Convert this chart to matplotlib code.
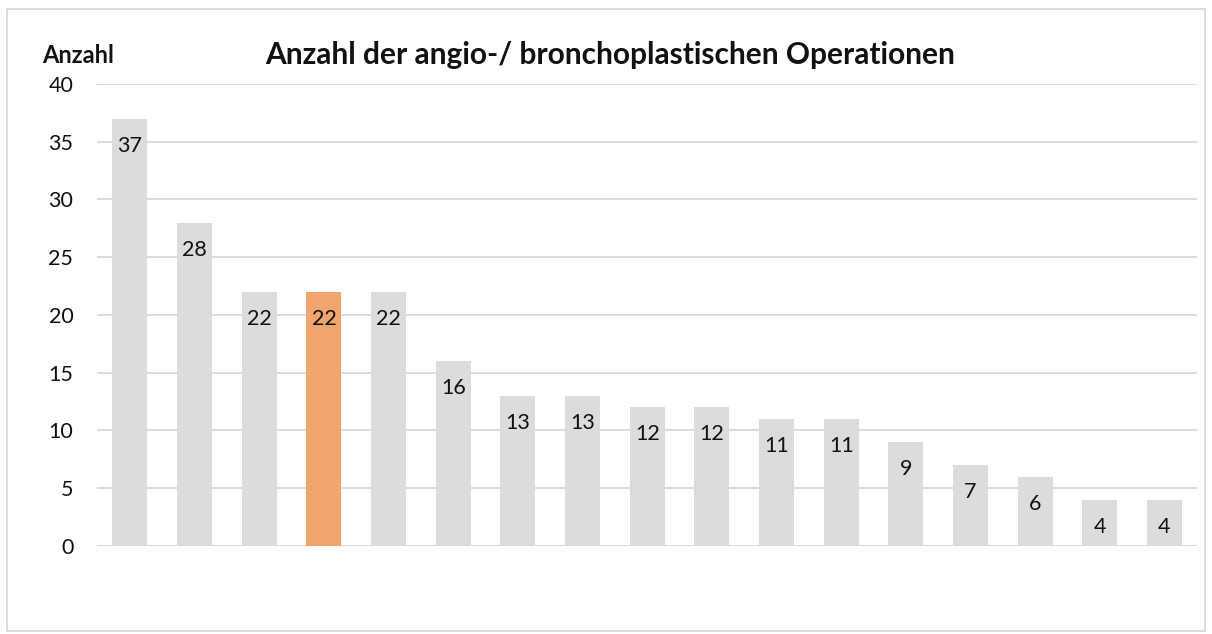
import matplotlib.pyplot as plt
from matplotlib.patches import Rectangle

plt.rcParams['font.family'] = ['Lato', 'DejaVu Sans']

values = [37, 28, 22, 22, 22, 16, 13, 13, 12, 12, 11, 11, 9, 7, 6, 4, 4]
highlight = 3
yticks = [0, 5, 10, 15, 20, 25, 30, 35, 40]

colors = ['#f0a46e' if i == highlight else '#dcdcdc' for i in range(len(values))]

fig = plt.figure(figsize=(12.12, 6.34), dpi=100)
ax = fig.add_axes([0.080, 0.139, 0.908, 0.7285])

x = list(range(len(values)))
bars = ax.bar(x, values, width=0.54, color=colors, zorder=2)
for b, v in zip(bars, values):
    ax.annotate(str(v), (b.get_x() + b.get_width() / 2, v), xytext=(0, -19.5),
                textcoords='offset points', ha='center', va='center', fontsize=15.5, color='#111111')

ax.set_xlim(-0.51, len(values) - 0.49)
ax.set_ylim(0, 40)
ax.set_yticks(yticks)
ax.set_xticks([])
ax.yaxis.grid(True, color='#d9d9d9', linewidth=1.3, zorder=0)
ax.tick_params(axis='y', length=0, labelsize=15.5, pad=17, labelcolor='#111111')
for s in ax.spines.values():
    s.set_visible(False)
ax.axhline(0, color='#d9d9d9', linewidth=1.3, zorder=1)

fig.text(0.503, 0.913, 'Anzahl der angio-/ bronchoplastischen Operationen',
         ha='center', va='center', fontsize=21.5, fontweight='bold', color='#111111')
fig.text(0.064, 0.913, 'Anzahl', ha='center', va='center', fontsize=17,
         fontweight='bold', color='#111111')

fig.patches.append(Rectangle((7 / 1212, 0.005), 1198 / 1212, 1 - 9 / 634 - 0.005,
                             transform=fig.transFigure, fill=False,
                             edgecolor='#d9d9d9', linewidth=1.3))

fig.savefig('out.png', dpi=100)
